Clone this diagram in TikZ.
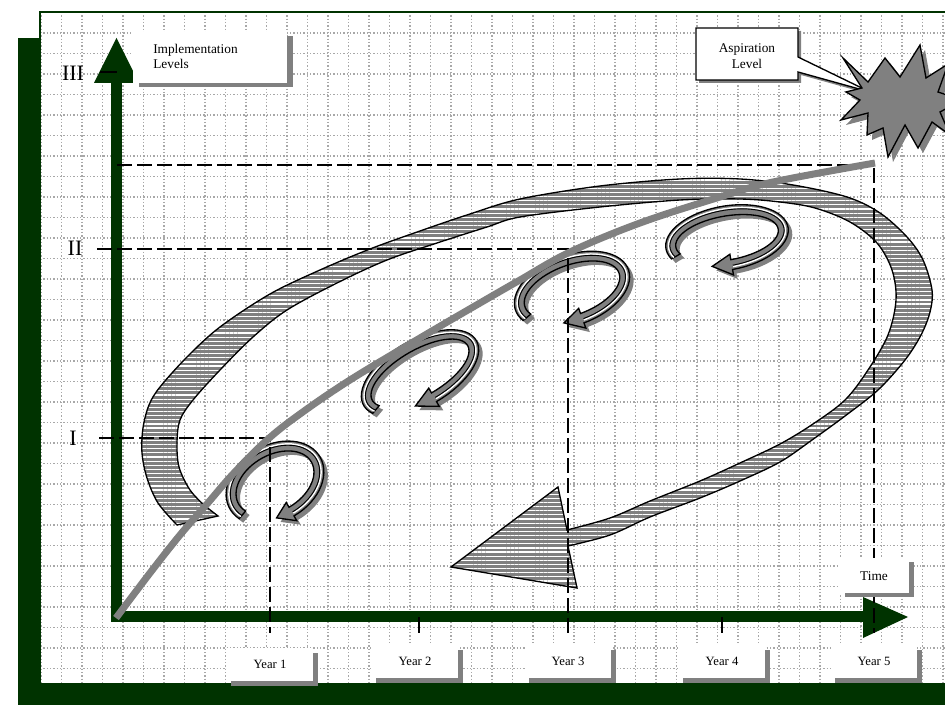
\documentclass[tikz,border=0pt]{standalone}
\usepackage{fontspec}
\setmainfont{Liberation Serif}
\usetikzlibrary{patterns.meta}
\definecolor{dkgreen}{RGB}{0,51,0}
\definecolor{midgray}{RGB}{128,128,128}
\definecolor{griddot}{RGB}{168,168,168}
\newcommand\eX{0}\newcommand\eY{0}\newcommand\eA{0}\newcommand\eB{0}\newcommand\eR{0}\newcommand\eT{0}
\newcommand\arrpath{plot[domain=\eT:450,samples=50] ({elx(\x,5)},{ely(\x,5)}) -- ({elx(450,10.5)},{ely(450,10.5)}) -- ({elx(470,0)},{ely(470,0)}) -- ({elx(450,-10.5)},{ely(450,-10.5)}) -- plot[domain=450:\eT,samples=50] ({elx(\x,-5)},{ely(\x,-5)}) -- cycle}
\newcommand\smallarr[6]{%
  \renewcommand\eX{#1}\renewcommand\eY{#2}\renewcommand\eA{#3}\renewcommand\eB{#4}\renewcommand\eR{#5}\renewcommand\eT{#6}%
  \fill[midgray,shift={(4,4)}] \arrpath;
  \draw[black,line width=1pt,fill=midgray] \arrpath;
  \draw[white,line width=1.1pt] plot[domain=\eT:449,samples=50] ({elx(\x,2.2)},{ely(\x,2.2)});
  \draw[black,line width=0.7pt] plot[domain=\eT:449,samples=50] ({elx(\x,0.8)},{ely(\x,0.8)});
}
\begin{document}
\begin{tikzpicture}[x=0.75pt,y=-0.75pt,
  declare function={elx(\ta,\dd)=\eX+(\eA+\dd)*cos(\ta)*cos(\eR)-(\eB+\dd)*sin(\ta)*sin(\eR);
                    ely(\ta,\dd)=\eY+(\eA+\dd)*cos(\ta)*sin(\eR)+(\eB+\dd)*sin(\ta)*cos(\eR);},
  gridline/.style={griddot,line width=1pt,dash pattern=on 1pt off 1.5pt},
  dashln/.style={black,line width=1pt,dash pattern=on 11.25pt off 3.75pt},
  lbl/.style={inner sep=0pt,font=\fontsize{10}{11.5}\selectfont},
  yearlbl/.style={inner sep=0pt,font=\fontsize{9.5}{11}\selectfont},
  roman/.style={inner sep=0pt,font=\fontsize{16.5}{18}\selectfont}]
\useasboundingbox (0,0) rectangle (945,705);
\clip (0,0) rectangle (945,705);
\fill[white] (0,0) rectangle (945,705);
% grid
\foreach \k in {0,...,44} \draw[gridline] ({41+20.5*\k},12) -- ({41+20.5*\k},683);
\foreach \k in {1,...,32} \draw[gridline] (40,{12.5+20.5*\k}) -- (945,{12.5+20.5*\k});
% frame
\fill[dkgreen] (18,38) rectangle (40,705);
\fill[dkgreen] (18,683) rectangle (945,705);
\draw[dkgreen,line width=1.1pt] (946,12) -- (40,12) -- (40,683);
% big looping arrow
\draw[line width=1pt,preaction={fill=midgray},pattern={Lines[distance=3.1pt,line width=0.9pt]},pattern color=white]
 plot[smooth,tension=0.55] coordinates {(177,525) (158,503) (147,478) (142,453) (143,428) (149,405) (160,387) (187,357) (220,327) (270,294) (320,270) (370,249) (420,231) (470,214) (520,199) (600,186) (680,179) (740,179) (793,185) (847,197) (880,213) (907,237) (923,260) (932,290) (930,312) (921,335) (905,360) (878,390) (845,416) (812,440) (780,462) (740,481) (700,498) (650,517) (610,535) (568,546)}
 -- (577,588) -- (451,567) -- (558,487) -- (567,530) --
 plot[smooth,tension=0.55] coordinates {(567,530) (610,518) (650,501) (700,481) (740,463) (780,444) (813,424) (845,400) (868,370) (888,335) (896,300) (892,270) (877,243) (850,222) (815,208) (780,202) (740,199) (680,200) (600,207) (520,217) (487,227) (437,243) (387,260) (337,283) (287,310) (253,337) (220,370) (193,400) (180,420) (177,442) (179,467) (190,490) (205,506)}
 -- (218,516) -- cycle;
% small curved arrows
\smallarr{275}{483}{47}{33}{-30}{160}
\smallarr{420}{373}{60}{28}{-30}{160}
\smallarr{572}{290}{55}{30}{-20}{160}
\smallarr{727}{238}{57}{27}{-10}{160}
% axes
\fill[dkgreen] (111,83) rectangle (122,622);
\fill[dkgreen] (94,83) -- (139,83) -- (116.5,38) -- cycle;
\fill[dkgreen] (111,611) rectangle (864,622);
\fill[dkgreen] (863,597) -- (863,638) -- (908,617) -- cycle;
% level and year guide lines
\coordinate (lIII) at (100,72);
\coordinate (aIII) at (117,72);
\draw[black,line width=1pt] (lIII) -- (aIII);
\coordinate (lII) at (97,249);
\coordinate (cII) at (568,249);
\coordinate (bII) at (568,633);
\draw[dashln] (lII) -- (cII) -- (bII);
\coordinate (lI) at (99,438);
\coordinate (cI) at (270,438);
\coordinate (bI) at (270,633);
\draw[dashln] (lI) -- (cI) -- (bI);
\coordinate (lT) at (117,165);
\coordinate (cT) at (874,165);
\coordinate (bT) at (874,633);
\draw[dashln] (lT) -- (cT) -- (bT);
\coordinate (t2a) at (419,617); \coordinate (t2b) at (419,633);
\coordinate (t4a) at (722,617); \coordinate (t4b) at (722,633);
\draw[black,line width=0.9pt] (t2a) -- (t2b);
\draw[black,line width=0.9pt] (t4a) -- (t4b);
% growth curve
\draw[midgray,line width=5.25pt] plot[smooth,tension=0.6] coordinates {(116,618) (150,573) (180,535) (207,504) (233,474) (267,440) (300,414) (350,380) (420,338) (480,303) (520,280) (570,252) (640,223) (720,197) (773,182) (875,163)};
% roman numerals
\node[roman] (nIII) at (73,73) {III};
\node[roman] (nII) at (75,248) {II};
\node[roman] (nI) at (73,438) {I};
% implementation levels box
\fill[midgray] (139,36) rectangle (293,87);
\fill[white] (133,32) rectangle (287,83);
\node[lbl,anchor=west,align=left] (impl) at (153,56.5) {Implementation\\Levels};
% year boxes
\foreach \cx/\dy/\t [count=\i] in {270/3/Year 1,415/0/Year 2,568/0/Year 3,722/0/Year 4,874/0/Year 5}{
  \fill[midgray] ({\cx-39},{650+\dy}) rectangle ({\cx+48},{683+\dy});
  \fill[white] ({\cx-43},{645+\dy}) rectangle ({\cx+43},{678+\dy});
  \node[yearlbl] (year\i) at (\cx,{661+\dy}) {\t};
}
% time box
\fill[midgray] (845,562) rectangle (914,597);
\fill[white] (840,558) rectangle (909,593);
\node[lbl] (time) at (874,576) {Time};
% aspiration callout
\fill[midgray] (699,31) -- (801,31) -- (801,60) -- (873,95) -- (801,75) -- (801,83) -- (699,83) -- cycle;
\draw[black,line width=1pt,fill=white] (696,28) -- (798,28) -- (798,57) -- (870,92) -- (798,72) -- (798,80) -- (696,80) -- cycle;
\node[lbl,align=center] (asp) at (747,56) {Aspiration\\Level};
% star burst
\def\starpts{(843,58) -- (868,82) -- (885,58) -- (900,77) -- (920,45) -- (926,78) -- (948,64) -- (938,92) -- (962,100) -- (940,112) -- (950,135) -- (932,122) -- (918,148) -- (905,125) -- (888,157) -- (883,128) -- (867,135) -- (868,113) -- (841,120) -- (860,100) -- (846,92) -- (862,88) -- cycle}
\fill[midgray,shift={(5,5)}] \starpts;
\draw[black,line width=1pt,fill=midgray] \starpts;
\end{tikzpicture}
\end{document}
